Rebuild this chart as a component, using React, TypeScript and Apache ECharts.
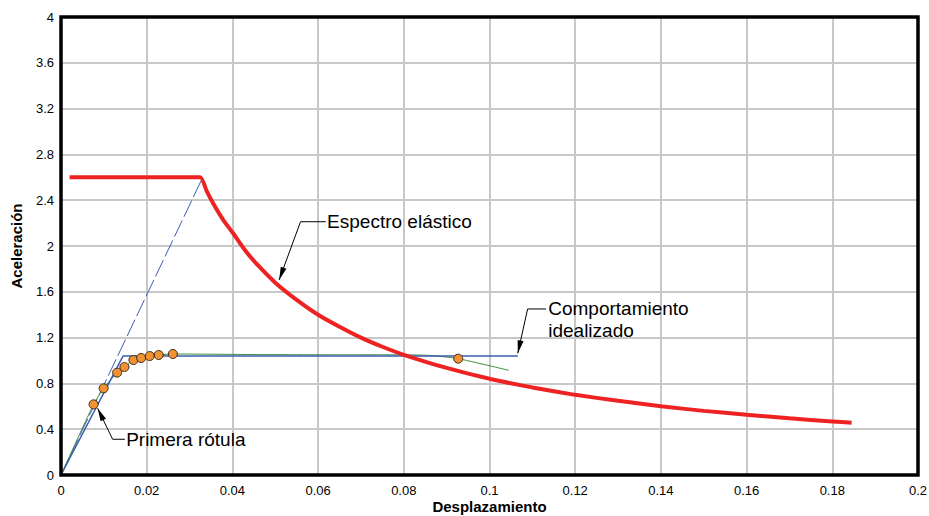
import React, { useEffect, useRef } from "react";
import * as echarts from "echarts";

// Elastic spectrum (acceleration vs displacement)
const espectroX = [0.002, 0.0325, 0.034, 0.036, 0.038, 0.04, 0.043, 0.046, 0.05, 0.055, 0.06, 0.065, 0.07, 0.075, 0.08, 0.09, 0.1, 0.11, 0.12, 0.13, 0.14, 0.15, 0.16, 0.17, 0.18, 0.1845];
const espectroY = [2.6, 2.6, 2.48, 2.34, 2.22, 2.12, 1.96, 1.83, 1.68, 1.53, 1.4, 1.295, 1.2, 1.12, 1.05, 0.935, 0.84, 0.765, 0.70, 0.648, 0.60, 0.56, 0.526, 0.495, 0.468, 0.456];

// Idealized bilinear behaviour
const idealX = [0, 0.0145, 0.1066];
const idealY = [0, 1.04, 1.04];

// Initial stiffness projection (dashed)
const rigidezX = [0, 0.0327];
const rigidezY = [0, 2.57];

// Capacity curve
const capacidadX = [0, 0.0076, 0.00995, 0.0131, 0.0148, 0.0169, 0.0187, 0.0207, 0.0228, 0.0261, 0.045, 0.065, 0.08, 0.086, 0.0927, 0.1045];
const capacidadY = [0, 0.617, 0.757, 0.894, 0.943, 1.004, 1.022, 1.039, 1.048, 1.057, 1.052, 1.05, 1.05, 1.044, 1.016, 0.914];

// Hinge formation points
const rotulasX = [0.0076, 0.00995, 0.0131, 0.0148, 0.0169, 0.0187, 0.0207, 0.0228, 0.0261, 0.0927];
const rotulasY = [0.617, 0.757, 0.894, 0.943, 1.004, 1.022, 1.039, 1.048, 1.057, 1.016];

// Annotations: leader polyline (arrow tip first) and text anchor, in data units
const notas = [
  { texto: ["Espectro elástico"], guia: [[0.0509, 1.703], [0.0559, 2.212], [0.0618, 2.212]], ancla: [0.0621, 2.212] },
  { texto: ["Comportamiento", "idealizado"], guia: [[0.1066, 1.063], [0.1089, 1.45], [0.1132, 1.45]], ancla: [0.1137, 1.45] },
  { texto: ["Primera rótula"], guia: [[0.00855, 0.583], [0.01205, 0.312], [0.0149, 0.312]], ancla: [0.0152, 0.312] },
];

const xTicks = ["0", "0.02", "0.04", "0.06", "0.08", "0.1", "0.12", "0.14", "0.16", "0.18", "0.2"];

const zip = (xs: number[], ys: number[]) => xs.map((x, i) => [x, ys[i]]);

const FONT = "'Liberation Sans', Arial, sans-serif";
const LH = 22;
const X_MAX = 0.2;
const Y_MAX = 4;

export default function App() {
  const ref = useRef<HTMLDivElement>(null);
  useEffect(() => {
    if (!ref.current) return;
    const chart = echarts.init(ref.current, null, { renderer: "svg" });
    const gridLine = { show: true, lineStyle: { color: "#c8c8c8", width: 2 } };
    chart.setOption({
      animation: false,
      backgroundColor: "#fff",
      grid: { left: 61, right: 11, top: 17, bottom: 41, outerBoundsMode: "none", containLabel: false },
      xAxis: {
        type: "value", min: 0, max: X_MAX, interval: 0.02,
        name: "Desplazamiento", nameLocation: "middle", nameGap: 23, nameMoveOverlap: false,
        nameTextStyle: { fontFamily: FONT, fontWeight: "bold", fontSize: 15, color: "#000", verticalAlign: "top", lineHeight: 16 },
        axisLine: { show: false }, axisTick: { show: false },
        axisLabel: { fontFamily: FONT, fontSize: 13, color: "#000", margin: 9, formatter: (v: number) => xTicks[Math.round(v / 0.02)] ?? "" },
        splitLine: gridLine,
      },
      yAxis: {
        type: "value", min: 0, max: Y_MAX, interval: 0.4,
        name: "Aceleración", nameLocation: "middle", nameGap: 37, nameMoveOverlap: false,
        nameTextStyle: { fontFamily: FONT, fontWeight: "bold", fontSize: 15, color: "#000" },
        axisLine: { show: false }, axisTick: { show: false },
        axisLabel: { fontFamily: FONT, fontSize: 13, color: "#000", margin: 7, formatter: (v: number) => String(Math.round(v * 10) / 10) },
        splitLine: gridLine,
      },
      series: [
        { type: "line", data: zip(rigidezX, rigidezY), showSymbol: false, lineStyle: { color: "#3b5cb0", width: 1, type: [18, 4] }, z: 3 },
        { type: "line", data: zip(capacidadX, capacidadY), showSymbol: false, smooth: 0.2, lineStyle: { color: "#3f8f3f", width: 1 }, z: 3 },
        { type: "line", data: zip(idealX, idealY), showSymbol: false, lineStyle: { color: "#3b5cb0", width: 1.5 }, z: 4 },
        { type: "line", data: zip(espectroX, espectroY), showSymbol: false, smooth: 0.15, lineStyle: { color: "#ee2222", width: 4 }, z: 5 },
        { type: "scatter", data: zip(rotulasX, rotulasY), symbolSize: 9, itemStyle: { color: "#f39232", borderColor: "#3a2a18", borderWidth: 1, opacity: 1 }, z: 6 },
      ],
    });

    const graphic: any[] = [];
    // Heavy frame around the plot area
    const [x0, y0] = chart.convertToPixel({ gridIndex: 0 }, [0, 0]) as number[];
    const [x1, y1] = chart.convertToPixel({ gridIndex: 0 }, [X_MAX, Y_MAX]) as number[];
    graphic.push({
      type: "rect", z: 9,
      shape: { x: x0, y: y1, width: x1 - x0, height: y0 - y1 },
      style: { stroke: "#000", lineWidth: 3.5, fill: null },
    });

    // Leaders, arrowheads and callout texts placed through the axis scales
    notas.forEach((n) => {
      const pts = n.guia.map((p) => chart.convertToPixel({ gridIndex: 0 }, p) as number[]);
      graphic.push({ type: "polyline", z: 10, shape: { points: pts }, style: { stroke: "#000", lineWidth: 1, fill: null } });
      const [tx, ty] = pts[0];
      const [bx, by] = pts[1];
      const len = Math.hypot(bx - tx, by - ty);
      const ux = (bx - tx) / len, uy = (by - ty) / len;
      const L = 13, W = 3;
      const cx = tx + ux * L, cy = ty + uy * L;
      graphic.push({
        type: "polygon", z: 11,
        shape: { points: [[tx, ty], [cx - uy * W, cy + ux * W], [cx + uy * W, cy - ux * W]] },
        style: { fill: "#000" },
      });
      const [ax, ay] = chart.convertToPixel({ gridIndex: 0 }, n.ancla) as number[];
      graphic.push({
        type: "text", x: ax, y: ay - LH / 2, z: 12,
        style: { text: n.texto.join("\n"), fill: "#000", font: `19px ${FONT}`, lineHeight: LH, verticalAlign: "top", align: "left" },
      });
    });
    chart.setOption({ graphic });
    return () => chart.dispose();
  }, []);
  return <div ref={ref} style={{ width: 929, height: 516, position: "absolute", left: 0, top: 0 }} />;
}
